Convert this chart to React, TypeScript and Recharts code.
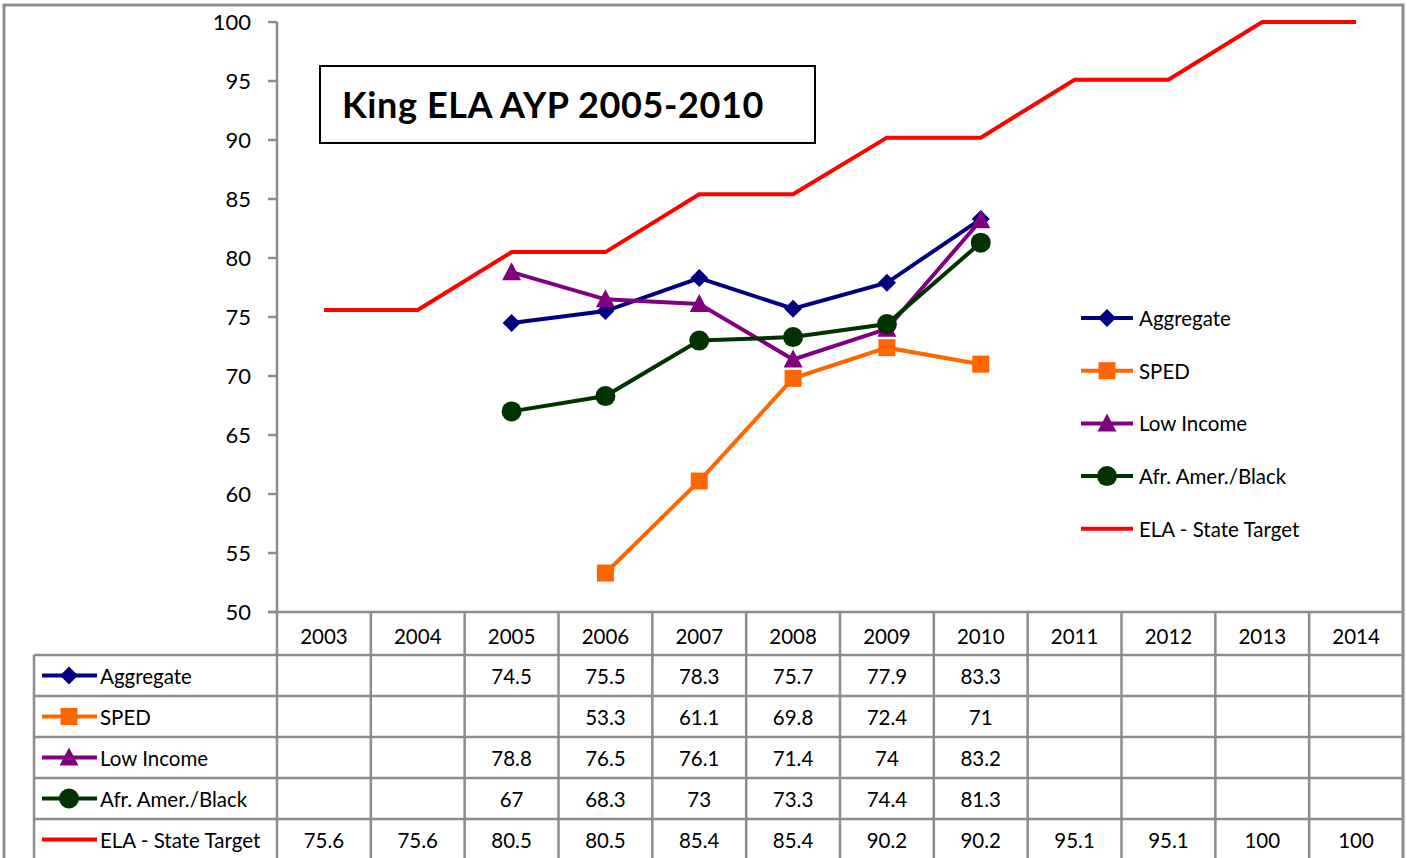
import { LineChart, Line, XAxis, YAxis, Legend } from "recharts";

const years = ["2003", "2004", "2005", "2006", "2007", "2008", "2009", "2010", "2011", "2012", "2013", "2014"];
const aggregate = [null, null, 74.5, 75.5, 78.3, 75.7, 77.9, 83.3, null, null, null, null];
const sped = [null, null, null, 53.3, 61.1, 69.8, 72.4, 71, null, null, null, null];
const lowIncome = [null, null, 78.8, 76.5, 76.1, 71.4, 74, 83.2, null, null, null, null];
const afrAmer = [null, null, 67, 68.3, 73, 73.3, 74.4, 81.3, null, null, null, null];
const stateTarget = [75.6, 75.6, 80.5, 80.5, 85.4, 85.4, 90.2, 90.2, 95.1, 95.1, 100, 100];
const yTicks = [50, 55, 60, 65, 70, 75, 80, 85, 90, 95, 100];

type MarkerType = "diamond" | "square" | "triangle" | "circle" | "none";

const series: { key: string; name: string; color: string; marker: MarkerType; values: (number | null)[] }[] = [
  { key: "aggregate", name: "Aggregate", color: "#000080", marker: "diamond", values: aggregate },
  { key: "sped", name: "SPED", color: "#FF6600", marker: "square", values: sped },
  { key: "lowIncome", name: "Low Income", color: "#800080", marker: "triangle", values: lowIncome },
  { key: "afrAmer", name: "Afr. Amer./Black", color: "#003300", marker: "circle", values: afrAmer },
  { key: "target", name: "ELA - State Target", color: "#FF0000", marker: "none", values: stateTarget },
];

const chartData = years.map((year, i) => {
  const row: Record<string, string | number | null> = { year };
  series.forEach((s) => {
    row[s.key] = s.values[i];
  });
  return row;
});

const FONT = "Lato, 'Open Sans', sans-serif";
const W = 1407;
const H = 858;
const PLOT_LEFT = 277;
const PLOT_RIGHT = 1403;
const PLOT_TOP = 22;
const PLOT_BOTTOM = 612;
const COL_W = (PLOT_RIGHT - PLOT_LEFT) / years.length;
const HEADER_BOTTOM = 655;
const ROW_H = 41;
const GRID = "#8c8c8c";
const LINE_W = 4;

function Marker({ type, cx, cy, color }: { type: MarkerType; cx: number; cy: number; color: string }) {
  if (type === "diamond") {
    return <polygon points={`${cx},${cy - 9} ${cx + 9},${cy} ${cx},${cy + 9} ${cx - 9},${cy}`} fill={color} />;
  }
  if (type === "square") {
    return <rect x={cx - 8.5} y={cy - 8.5} width={17} height={17} fill={color} />;
  }
  if (type === "triangle") {
    return <polygon points={`${cx},${cy - 10} ${cx + 9.5},${cy + 8} ${cx - 9.5},${cy + 8}`} fill={color} />;
  }
  if (type === "circle") {
    return <circle cx={cx} cy={cy} r={10} fill={color} />;
  }
  return null;
}

function LegendBox() {
  return (
    <svg width={300} height={270} style={{ display: "block" }}>
      {series.map((s, i) => {
        const y = 28 + i * 52.7;
        return (
          <g key={s.key}>
            <line x1={11} x2={63} y1={y} y2={y} stroke={s.color} strokeWidth={LINE_W} />
            <Marker type={s.marker} cx={37} cy={y} color={s.color} />
            <text x={69} y={y} dominantBaseline="central" fontSize={20.5} fontFamily={FONT} fill="#000">
              {s.name}
            </text>
          </g>
        );
      })}
    </svg>
  );
}

function Overlay() {
  const tableBottom = HEADER_BOTTOM + ROW_H * series.length;
  return (
    <svg width={W} height={H} style={{ position: "absolute", left: 0, top: 0, pointerEvents: "none" }}>
      {/* title */}
      <rect x={320} y={66} width={495} height={77} fill="#fff" stroke="#000" strokeWidth={2} />
      <text
        x={342}
        y={104}
        dominantBaseline="central"
        fontSize={36}
        letterSpacing={0.6}
        fontWeight="bold"
        fontFamily={FONT}
        fill="#000"
      >
        King ELA AYP 2005-2010
      </text>

      {/* outer frame */}
      <rect x={4} y={5} width={1399} height={H + 10} fill="none" stroke={GRID} strokeWidth={3} />

      {/* table grid */}
      <line x1={268} x2={PLOT_RIGHT} y1={PLOT_BOTTOM} y2={PLOT_BOTTOM} stroke={GRID} strokeWidth={2.5} />
      {years.map((y, i) => (
        <line
          key={y}
          x1={PLOT_LEFT + i * COL_W}
          x2={PLOT_LEFT + i * COL_W}
          y1={PLOT_BOTTOM}
          y2={tableBottom}
          stroke={GRID}
          strokeWidth={2.5}
        />
      ))}
      <line x1={34} x2={34} y1={HEADER_BOTTOM} y2={tableBottom} stroke={GRID} strokeWidth={2.5} />
      {series.map((s, r) => (
        <line
          key={s.key}
          x1={34}
          x2={PLOT_RIGHT}
          y1={HEADER_BOTTOM + r * ROW_H}
          y2={HEADER_BOTTOM + r * ROW_H}
          stroke={GRID}
          strokeWidth={2.5}
        />
      ))}

      {/* table rows */}
      {series.map((s, r) => {
        const cy = HEADER_BOTTOM + r * ROW_H + ROW_H / 2;
        return (
          <g key={s.key}>
            <line x1={42} x2={97} y1={cy} y2={cy} stroke={s.color} strokeWidth={LINE_W} />
            <Marker type={s.marker} cx={69} cy={cy} color={s.color} />
            <text x={100} y={cy} dominantBaseline="central" fontSize={20.5} fontFamily={FONT} fill="#000">
              {s.name}
            </text>
            {s.values.map((v, i) =>
              v == null ? null : (
                <text
                  key={i}
                  x={PLOT_LEFT + (i + 0.5) * COL_W}
                  y={cy}
                  textAnchor="middle"
                  dominantBaseline="central"
                  fontSize={20.5}
                  fontFamily={FONT}
                  fill="#000"
                >
                  {v}
                </text>
              )
            )}
          </g>
        );
      })}
    </svg>
  );
}

export default function App() {
  return (
    <div style={{ position: "fixed", left: 0, top: 0, width: W, height: H, background: "#fff" }}>
      <LineChart
        width={W}
        height={H}
        data={chartData}
        margin={{ top: PLOT_TOP, right: W - PLOT_RIGHT, left: PLOT_LEFT - 60, bottom: H - PLOT_BOTTOM - 43 }}
      >
        <XAxis
          dataKey="year"
          height={43}
          padding={{ left: COL_W / 2, right: COL_W / 2 }}
          tickLine={false}
          axisLine={false}
          tickSize={0}
          tickMargin={17}
          interval={0}
          tick={{ fill: "#000", fontSize: 20.5, fontFamily: FONT }}
        />
        <YAxis
          width={60}
          domain={[50, 100]}
          ticks={yTicks}
          interval={0}
          tickSize={9}
          tickMargin={17}
          axisLine={{ stroke: GRID, strokeWidth: 2.5 }}
          tickLine={{ stroke: GRID, strokeWidth: 2.5 }}
          tick={{ fill: "#000", fontSize: 22, fontFamily: FONT }}
        />
        <Legend
          layout="horizontal"
          verticalAlign="middle"
          align="center"
          wrapperStyle={{ left: 1070, top: 290, width: 300, height: 270 }}
          content={() => <LegendBox />}
        />
        {series.map((s) => (
          <Line
            key={s.key}
            type="linear"
            dataKey={s.key}
            name={s.name}
            stroke={s.color}
            strokeWidth={LINE_W}
            isAnimationActive={false}
            activeDot={false}
            dot={(p: any) =>
              p.cx == null || p.cy == null || p.value == null || s.marker === "none" ? (
                <g key={`${s.key}-${p.index}`} />
              ) : (
                <Marker key={`${s.key}-${p.index}`} type={s.marker} cx={p.cx} cy={p.cy} color={s.color} />
              )
            }
          />
        ))}
      </LineChart>
      <Overlay />
    </div>
  );
}
